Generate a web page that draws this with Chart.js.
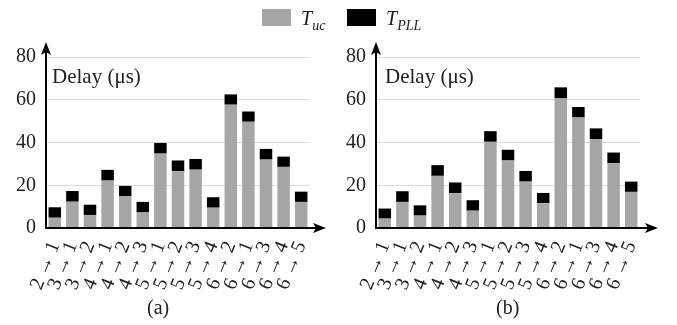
<!DOCTYPE html>
<html><head><meta charset="utf-8">
<script src="https://cdn.jsdelivr.net/npm/chart.js@4/dist/chart.umd.min.js"></script>
<style>
body{margin:0;background:#fff;}
#wrap{position:relative;width:677px;height:325px;overflow:hidden;font-family:"Liberation Serif",serif;color:#222;}
canvas{position:absolute;top:0;}
.t{position:absolute;white-space:nowrap;font-size:19px;line-height:1;}
.box{position:absolute;width:29px;height:17px;}
</style></head>
<body>
<div id="wrap">
<canvas id="ca" width="338" height="325" style="left:0"></canvas>
<canvas id="cb" width="339" height="325" style="left:338px"></canvas>
<div class="box" style="left:262px;top:9px;background:#a6a6a6"></div>
<div class="t" style="left:301px;top:8px;font-style:italic;font-size:20px">T<sub style="font-size:14px">uc</sub></div>
<div class="box" style="left:347px;top:9px;background:#000"></div>
<div class="t" style="left:386px;top:8px;font-style:italic;font-size:20px">T<sub style="font-size:14px">PLL</sub></div>
<div class="t" style="left:52px;top:66px;font-size:21px">Delay (μs)</div>
<div class="t" style="left:385px;top:66px;font-size:21px">Delay (μs)</div>
<div class="t" style="left:147px;top:297px;font-size:20px">(a)</div>
<div class="t" style="left:496px;top:297px;font-size:20px">(b)</div>
</div>
<script>
const categories = ['2 → 1','3 → 1','3 → 2','4 → 1','4 → 2','4 → 3','5 → 1','5 → 2','5 → 3','5 → 4','6 → 2','6 → 1','6 → 3','6 → 4','6 → 5'];
const tucA  = [4.8,12.3,6.1,22.2,14.8,7.3,34.8,26.6,27.3,9.5,57.7,49.7,32.0,28.6,12.2];
const tpllA = [4.9,5.0,4.8,5.0,4.9,4.9,5.0,5.0,5.0,4.9,4.8,4.8,5.0,4.8,4.8];
const tucB  = [4.4,12.2,5.8,24.4,16.3,8.1,40.3,31.6,21.7,11.6,60.8,51.7,41.6,30.3,16.9];
const tpllB = [4.7,5.0,4.8,5.0,5.0,4.9,5.0,5.0,5.0,4.8,5.0,4.9,5.0,5.0,4.8];
const yTicks = [0,20,40,60,80];

const axisArrows = {
  id:'axisArrows',
  afterDatasetsDraw(chart, args, opts){
    const {ctx, chartArea:a} = chart;
    ctx.save();
    ctx.strokeStyle='#000'; ctx.fillStyle='#000'; ctx.lineWidth=2;
    ctx.beginPath();
    ctx.moveTo(a.left, a.bottom+1); ctx.lineTo(a.left, opts.yTip+8);
    ctx.moveTo(a.left-1, a.bottom); ctx.lineTo(opts.xTip-8, a.bottom);
    ctx.stroke();
    ctx.beginPath();
    ctx.moveTo(a.left, opts.yTip); ctx.lineTo(a.left-5, opts.yTip+13); ctx.lineTo(a.left, opts.yTip+10); ctx.lineTo(a.left+5, opts.yTip+13); ctx.closePath();
    ctx.fill();
    ctx.beginPath();
    ctx.moveTo(opts.xTip, a.bottom); ctx.lineTo(opts.xTip-13, a.bottom-5); ctx.lineTo(opts.xTip-10, a.bottom); ctx.lineTo(opts.xTip-13, a.bottom+5); ctx.closePath();
    ctx.fill();
    ctx.restore();
  }
};

function makeChart(id, tuc, tpll, yWidth, padRight, xTip){
  return new Chart(document.getElementById(id), {
    type:'bar',
    data:{labels:categories, datasets:[
      {label:'Tuc', data:tuc, backgroundColor:'#a6a6a6', stack:'s'},
      {label:'TPLL', data:tpll, backgroundColor:'#000', stack:'s'}
    ]},
    options:{
      responsive:false, animation:false, devicePixelRatio:1,
      layout:{padding:{left:0,right:padRight,top:57,bottom:0}},
      datasets:{bar:{categoryPercentage:1, barPercentage:0.71}},
      plugins:{legend:{display:false}, tooltip:{enabled:false}, axisArrows:{xTip:xTip, yTip:42}},
      scales:{
        x:{stacked:true, grid:{display:false}, border:{display:false},
           afterFit(s){s.height=97;},
           ticks:{autoSkip:false, minRotation:68, maxRotation:68, padding:2, color:'#222',
                  font:{family:'"Liberation Serif", serif', size:20}}},
        y:{stacked:true, min:0, max:80, border:{display:false},
           afterFit(s){s.width=yWidth;},
           afterBuildTicks(s){s.ticks = yTicks.map(v=>({value:v}));},
           grid:{color:'#dcdcdc', lineWidth:1, drawTicks:false},
           ticks:{padding:10, color:'#222', font:{family:'"Liberation Serif", serif', size:20}}}
      }
    },
    plugins:[axisArrows]
  });
}
makeChart('ca', tucA, tpllA, 46, 28, 326);
makeChart('cb', tucB, tpllB, 38, 37, 320);
</script>
</body></html>
